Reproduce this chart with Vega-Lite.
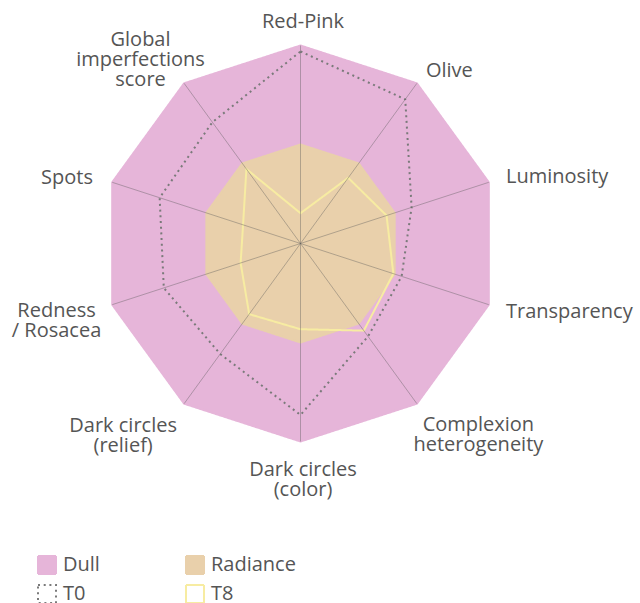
{
  "$schema": "https://vega.github.io/schema/vega-lite/v6.json",
  "width": 640,
  "height": 603,
  "padding": 0,
  "autosize": {"type": "none"},
  "background": "white",
  "config": {"view": {"stroke": null}, "font": "Open Sans"},
  "data": {
    "values": [
      {"i": 0, "label": "Red-Pink", "Dull": 100, "Radiance": 50, "T0": 97, "T8": 15.3},
      {"i": 1, "label": "Olive", "Dull": 100, "Radiance": 50, "T0": 90, "T8": 41},
      {"i": 2, "label": "Luminosity", "Dull": 100, "Radiance": 50, "T0": 59, "T8": 45.7},
      {"i": 3, "label": "Transparency", "Dull": 100, "Radiance": 50, "T0": 53.7, "T8": 49.3},
      {"i": 4, "label": "Complexion\nheterogeneity", "Dull": 100, "Radiance": 50, "T0": 58, "T8": 54.4},
      {"i": 5, "label": "Dark circles\n(color)", "Dull": 100, "Radiance": 50, "T0": 86.6, "T8": 43.3},
      {"i": 6, "label": "Dark circles\n(relief)", "Dull": 100, "Radiance": 50, "T0": 69, "T8": 44.1},
      {"i": 7, "label": "Redness\n/ Rosacea", "Dull": 100, "Radiance": 50, "T0": 72.6, "T8": 31.8},
      {"i": 8, "label": "Spots", "Dull": 100, "Radiance": 50, "T0": 74.8, "T8": 30.5},
      {"i": 9, "label": "Global\nimperfections\nscore", "Dull": 100, "Radiance": 50, "T0": 75.7, "T8": 46.5}
    ]
  },
  "encoding": {
    "x": {"field": "px", "type": "quantitative", "scale": {"domain": [-151.77, 171.46], "nice": false, "zero": false}, "axis": null},
    "y": {"field": "py", "type": "quantitative", "scale": {"domain": [-181.57, 122.98], "nice": false, "zero": false}, "axis": null}
  },
  "layer": [
    {
      "transform": [
        {"fold": ["Dull", "Radiance", "T0", "T8"], "as": ["series", "value"]},
        {"calculate": "datum.value*sin(2*PI*datum.i/10)", "as": "px"},
        {"calculate": "datum.value*cos(2*PI*datum.i/10)", "as": "py"}
      ],
      "mark": {"type": "line", "interpolate": "linear-closed", "strokeWidth": 2},
      "encoding": {
        "order": {"field": "i", "type": "quantitative"},
        "fill": {
          "field": "series", "type": "nominal",
          "scale": {"domain": ["Dull", "Radiance", "T0", "T8"], "range": ["#e6b5d9", "#e9d0ab", "transparent", "transparent"]},
          "legend": {"title": null, "orient": "none", "legendX": 37, "legendY": 555, "direction": "horizontal", "columns": 2, "columnPadding": 82, "rowPadding": 3, "symbolType": "square", "symbolSize": 324, "symbolStrokeWidth": 2, "labelFont": "Open Sans", "labelFontSize": 20, "labelColor": "#555555", "labelOffset": 6, "padding": 0}
        },
        "stroke": {
          "field": "series", "type": "nominal",
          "scale": {"domain": ["Dull", "Radiance", "T0", "T8"], "range": ["#e6b5d9", "#e9d0ab", "#7a7a7a", "#f7eca2"]},
          "legend": {"title": null, "orient": "none", "legendX": 37, "legendY": 555, "direction": "horizontal", "columns": 2, "columnPadding": 82, "rowPadding": 3, "symbolType": "square", "symbolSize": 324, "symbolStrokeWidth": 2, "labelFont": "Open Sans", "labelFontSize": 20, "labelColor": "#555555", "labelOffset": 6, "padding": 0}
        },
        "strokeDash": {
          "field": "series", "type": "nominal",
          "scale": {"domain": ["Dull", "Radiance", "T0", "T8"], "range": [[1, 0], [1, 0], [2, 3.7], [1, 0]]},
          "legend": {"title": null, "orient": "none", "legendX": 37, "legendY": 555, "direction": "horizontal", "columns": 2, "columnPadding": 82, "rowPadding": 3, "symbolType": "square", "symbolSize": 324, "symbolStrokeWidth": 2, "labelFont": "Open Sans", "labelFontSize": 20, "labelColor": "#555555", "labelOffset": 6, "padding": 0}
        }
      }
    },
    {
      "transform": [
        {"calculate": "datum.Dull*sin(2*PI*datum.i/10)", "as": "px"},
        {"calculate": "datum.Dull*cos(2*PI*datum.i/10)", "as": "py"}
      ],
      "mark": {"type": "rule", "color": "#5a5a5a", "opacity": 0.4, "strokeWidth": 1},
      "encoding": {"x2": {"datum": 0}, "y2": {"datum": 0}}
    },
    {
      "transform": [
        {"calculate": "108.59*sin(2*PI*datum.i/10)", "as": "px"},
        {"calculate": "108.59*cos(2*PI*datum.i/10)", "as": "py"}
      ],
      "encoding": {"text": {"field": "label", "type": "nominal"}},
      "layer": [
        {"transform": [{"filter": "datum.i == 0"}], "mark": {"type": "text", "font": "Open Sans", "fontSize": 20, "color": "#555555", "lineBreak": "\n", "lineHeight": 20, "align": "center", "baseline": "alphabetic", "dx": 2.5, "dy": 0}},
        {"transform": [{"filter": "datum.i == 1"}], "mark": {"type": "text", "font": "Open Sans", "fontSize": 20, "color": "#555555", "lineBreak": "\n", "lineHeight": 20, "align": "left", "baseline": "alphabetic", "dx": -1, "dy": 7}},
        {"transform": [{"filter": "datum.i == 2"}], "mark": {"type": "text", "font": "Open Sans", "fontSize": 20, "color": "#555555", "lineBreak": "\n", "lineHeight": 20, "align": "left", "baseline": "alphabetic", "dx": 1, "dy": 5.7}},
        {"transform": [{"filter": "datum.i == 3"}], "mark": {"type": "text", "font": "Open Sans", "fontSize": 20, "color": "#555555", "lineBreak": "\n", "lineHeight": 20, "align": "left", "baseline": "alphabetic", "dx": 1, "dy": 7.6}},
        {"transform": [{"filter": "datum.i == 4"}], "mark": {"type": "text", "font": "Open Sans", "fontSize": 20, "color": "#555555", "lineBreak": "\n", "lineHeight": 20, "align": "center", "baseline": "alphabetic", "dx": 51.5, "dy": 14}},
        {"transform": [{"filter": "datum.i == 5"}], "mark": {"type": "text", "font": "Open Sans", "fontSize": 20, "color": "#555555", "lineBreak": "\n", "lineHeight": 20, "align": "center", "baseline": "alphabetic", "dx": 2.5, "dy": 17}},
        {"transform": [{"filter": "datum.i == 6"}], "mark": {"type": "text", "font": "Open Sans", "fontSize": 20, "color": "#555555", "lineBreak": "\n", "lineHeight": 20, "align": "center", "baseline": "alphabetic", "dx": -51, "dy": 14.5}},
        {"transform": [{"filter": "datum.i == 7"}], "mark": {"type": "text", "font": "Open Sans", "fontSize": 20, "color": "#555555", "lineBreak": "\n", "lineHeight": 20, "align": "center", "baseline": "alphabetic", "dx": -39.5, "dy": 7.5}},
        {"transform": [{"filter": "datum.i == 8"}], "mark": {"type": "text", "font": "Open Sans", "fontSize": 20, "color": "#555555", "lineBreak": "\n", "lineHeight": 20, "align": "right", "baseline": "alphabetic", "dx": -3, "dy": 7.4}},
        {"transform": [{"filter": "datum.i == 9"}], "mark": {"type": "text", "font": "Open Sans", "fontSize": 20, "color": "#555555", "lineBreak": "\n", "lineHeight": 20, "align": "center", "baseline": "alphabetic", "dx": -33.6, "dy": -24}}
      ]
    }
  ]
}
